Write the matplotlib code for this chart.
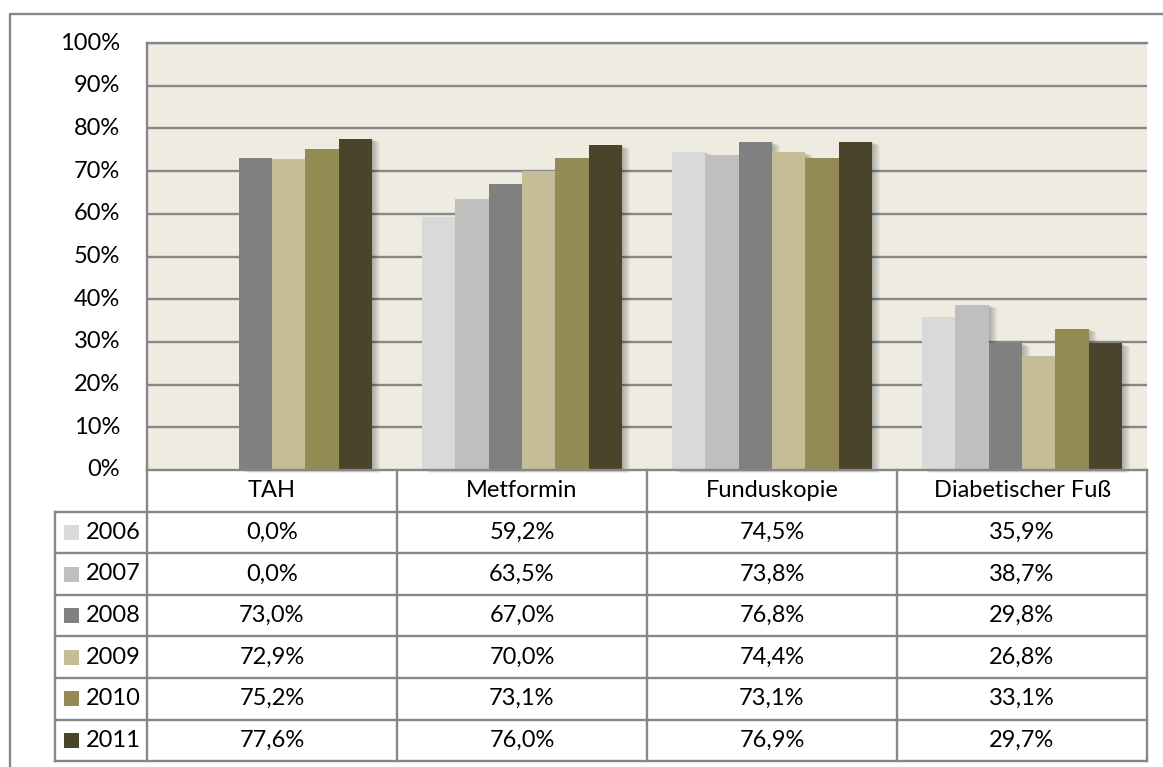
import matplotlib
matplotlib.use("Agg")
import matplotlib.pyplot as plt
from matplotlib.patches import Rectangle
from matplotlib.transforms import ScaledTranslation

# ==============================
# Daten
# ==============================
kategorien = ["TAH", "Metformin", "Funduskopie", "Diabetischer Fuß"]
jahre = ["2006", "2007", "2008", "2009", "2010", "2011"]
werte_2006 = [0.0, 59.2, 74.5, 35.9]
werte_2007 = [0.0, 63.5, 73.8, 38.7]
werte_2008 = [73.0, 67.0, 76.8, 29.8]
werte_2009 = [72.9, 70.0, 74.4, 26.8]
werte_2010 = [75.2, 73.1, 73.1, 33.1]
werte_2011 = [77.6, 76.0, 76.9, 29.7]
y_ticks = [0, 10, 20, 30, 40, 50, 60, 70, 80, 90, 100]

serien = [werte_2006, werte_2007, werte_2008, werte_2009, werte_2010, werte_2011]
farben = ["#D9D9D9", "#BFBFBF", "#808080", "#C4BD97", "#948A54", "#4A452A"]

plt.rcParams["font.family"] = ["Lato", "DejaVu Sans"]
W, H = 1163, 767
GRAU = "#878787"
FS = 17

fig = plt.figure(figsize=(W / 100, H / 100), dpi=100)

# Pixel-Koordinaten fuer das Layout
px_l, px_r, px_t, px_b = 147, 1147, 43, 470
ax = fig.add_axes([px_l / W, 1 - px_b / H, (px_r - px_l) / W, (px_b - px_t) / H])
ax.set_facecolor("#EEEBE0")
ax.set_xlim(-0.5, len(kategorien) - 0.5)
ax.set_ylim(0, 100)

for t in y_ticks[1:]:
    ax.axhline(t, color=GRAU, lw=1.7, zorder=1)

# ==============================
# Balken mit Schatten
# ==============================
n = len(serien)
breite = 0.8 / n
for i, (werte, farbe) in enumerate(zip(serien, farben)):
    xs = [k - 0.4 + breite * (i + 0.5) for k in range(len(kategorien))]
    for x, v in zip(xs, werte):
        if v <= 0:
            continue
        for d in range(1, 9):
            sh = Rectangle((x - breite / 2, 0), breite, v, facecolor="black",
                           edgecolor="none", alpha=0.035, zorder=2,
                           transform=ax.transData + ScaledTranslation(d * 0.01, -d * 0.004, fig.dpi_scale_trans))
            sh.set_clip_on(False)
            ax.add_patch(sh)
    ax.bar(xs, werte, width=breite, color=farbe, zorder=3)

ax.set_xticks([])
ax.set_yticks([])
for s in ["right", "bottom"]:
    ax.spines[s].set_visible(False)
ax.spines["top"].set_color(GRAU)
ax.spines["top"].set_linewidth(1.7)
ax.spines["left"].set_color(GRAU)
ax.spines["left"].set_linewidth(1.7)

# ==============================
# Overlay: Rahmen, Achsenbeschriftung, Tabelle
# ==============================
ov = fig.add_axes([0, 0, 1, 1], facecolor="none")
ov.set_xlim(0, W)
ov.set_ylim(H, 0)
ov.axis("off")

# aeusserer Rahmen (nur oben und links sichtbar)
ov.plot([10, 10, W], [H, 14, 14], color=GRAU, lw=1.7)

skala = (px_b - px_t) / 100
for t in y_ticks:
    ov.text(120, px_b - t * skala, f"{t}%", ha="right", va="center", fontsize=FS)

zeile = 41.6
spalte = (px_r - px_l) / len(kategorien)
tab_l = 55
kopf_u = px_b + zeile
tab_u = kopf_u + zeile * len(jahre)

lw = 1.7
# Achsenlinie / Tabellenkopf oben
ov.plot([px_l, px_r], [px_b, px_b], color=GRAU, lw=lw)
# horizontale Linien
for r in range(len(jahre) + 1):
    y = kopf_u + r * zeile
    ov.plot([tab_l, px_r], [y, y], color=GRAU, lw=lw)
# vertikale Linien
ov.plot([tab_l, tab_l], [kopf_u, tab_u], color=GRAU, lw=lw)
for c in range(len(kategorien) + 1):
    x = px_l + c * spalte
    ov.plot([x, x], [px_b, tab_u], color=GRAU, lw=lw)

for c, kat in enumerate(kategorien):
    ov.text(px_l + (c + 0.5) * spalte, px_b + zeile / 2, kat, ha="center", va="center", fontsize=FS)

for r, (jahr, werte, farbe) in enumerate(zip(jahre, serien, farben)):
    yc = kopf_u + (r + 0.5) * zeile
    ov.add_patch(Rectangle((64, yc - 7.5), 15, 15, facecolor=farbe, edgecolor="none"))
    ov.text(86, yc, jahr, ha="left", va="center", fontsize=FS)
    for c, v in enumerate(werte):
        txt = f"{v:.1f}%".replace(".", ",")
        ov.text(px_l + (c + 0.5) * spalte, yc, txt, ha="center", va="center", fontsize=FS)

fig.savefig("out.png", dpi=100)
